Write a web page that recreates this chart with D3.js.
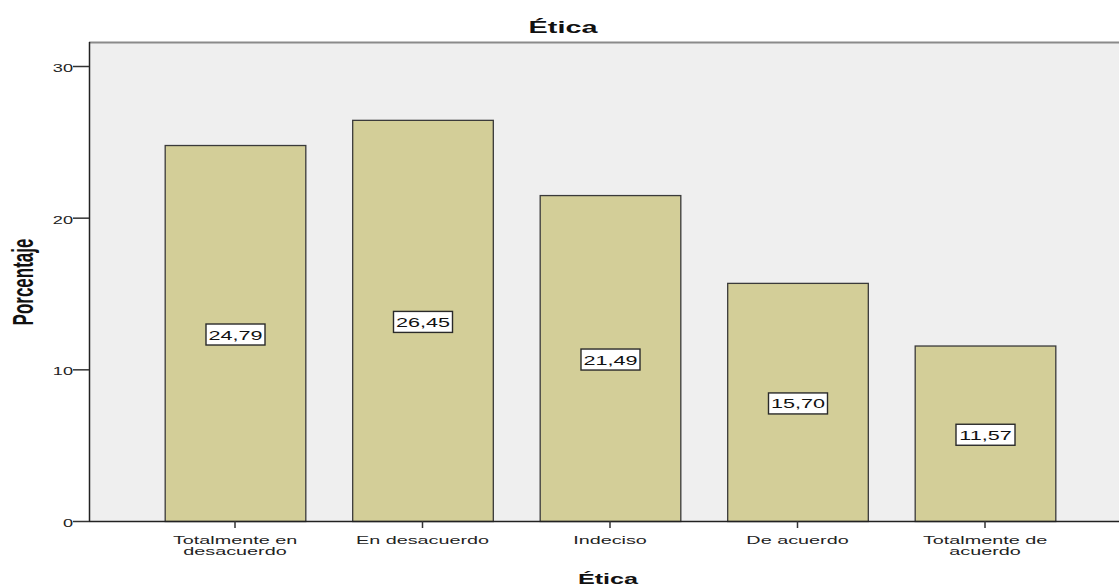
<!DOCTYPE html>
<html>
<head>
<meta charset="utf-8">
<script src="https://cdn.jsdelivr.net/npm/d3@7"></script>
<style>
  html, body { margin: 0; padding: 0; background: #fff; }
  svg { display: block; }
</style>
</head>
<body>
<svg id="chart" width="1119" height="588"></svg>
<script>
// Response categories and their percentages
const categories = ["Totalmente en\ndesacuerdo", "En desacuerdo", "Indeciso", "De acuerdo", "Totalmente de\nacuerdo"];
const percentages = [24.79, 26.45, 21.49, 15.70, 11.57];
const yTicks = [0, 10, 20, 30];
const chartTitle = "Ética";
const xTitle = "Ética";
const yTitle = "Porcentaje";

const svg = d3.select("#chart");
const plot = { left: 89, top: 42, right: 1125, bottom: 521 };

// text is drawn horizontally widened, as in the exported chart
const SX = 1.8;

const y = d3.scaleLinear().domain([0, 30]).range([521, 66]);
const x = d3.scaleBand().domain(categories).range([141.25, 1078.75]).paddingInner(0.25).paddingOuter(0.125);

const fontMain = "'Liberation Sans', Arial, sans-serif";

// plot background
svg.append("rect")
  .attr("x", plot.left).attr("y", plot.top)
  .attr("width", plot.right - plot.left).attr("height", plot.bottom - plot.top)
  .attr("fill", "#efefef");
// top frame line
svg.append("line")
  .attr("x1", plot.left).attr("x2", plot.right)
  .attr("y1", plot.top + 0.5).attr("y2", plot.top + 0.5)
  .attr("stroke", "#8a8a8a").attr("stroke-width", 2);

// bars
const bars = svg.append("g");
bars.selectAll("rect").data(percentages).join("rect")
  .attr("x", (d, i) => x(categories[i]) + 0.5)
  .attr("y", d => y(d) + 0.5)
  .attr("width", x.bandwidth())
  .attr("height", d => y(0) - y(d))
  .attr("fill", "#d3ce98")
  .attr("stroke", "#3a3a3a")
  .attr("stroke-width", 1.3);

// y axis
const yAxis = svg.append("g")
  .attr("transform", `translate(${plot.left},0)`)
  .call(d3.axisLeft(y).tickValues(yTicks).tickSize(16).tickFormat(d3.format("d")));
yAxis.select(".domain").attr("d", `M0.5,${plot.top}V${plot.bottom}`).attr("stroke", "#222").attr("stroke-width", 1.5);
yAxis.selectAll(".tick line").attr("x1", 0).attr("x2", -16).attr("stroke", "#333").attr("stroke-width", 1.5);
yAxis.selectAll(".tick text")
  .attr("x", null).attr("dy", "0.5em")
  .attr("transform", "translate(-16,0) scale(1.65,1)")
  .attr("text-anchor", "end")
  .attr("font-family", fontMain).attr("font-size", 11).attr("fill", "#222");

// x axis
const xAxis = svg.append("g")
  .attr("transform", `translate(0,${plot.bottom})`)
  .call(d3.axisBottom(x).tickSize(7).tickFormat(""));
xAxis.select(".domain").attr("d", `M${plot.left},0.5H${plot.right}`).attr("stroke", "#222").attr("stroke-width", 1.5);
xAxis.selectAll(".tick line").attr("stroke", "#333").attr("stroke-width", 1.5);
xAxis.selectAll(".tick").each(function(d) {
  const lines = d.split("\n");
  const t = d3.select(this).append("text")
    .attr("text-anchor", "middle")
    .attr("transform", `scale(${SX},1)`)
    .attr("font-family", fontMain).attr("font-size", 11).attr("fill", "#222");
  lines.forEach((ln, k) => {
    t.append("tspan").attr("x", 0).attr("y", 23 + k * 11).text(ln);
  });
});

// value labels in boxes at half height
const labels = svg.append("g");
percentages.forEach((v, i) => {
  const cx = x(categories[i]) + x.bandwidth() / 2 + 0.5;
  const cy = y(v / 2) + 2;
  const txt = d3.format(".2f")(v).replace(".", ",");
  const g = labels.append("g").attr("transform", `translate(${cx},${cy})`);
  g.append("rect")
    .attr("x", -29.5).attr("y", -11).attr("width", 59).attr("height", 21)
    .attr("fill", "#fff").attr("stroke", "#2a2a2a").attr("stroke-width", 1.4);
  g.append("text")
    .attr("text-anchor", "middle").attr("y", 4.5)
    .attr("transform", `scale(${SX},1)`)
    .attr("font-family", fontMain).attr("font-size", 12).attr("fill", "#111")
    .text(txt);
});

// titles
svg.append("text")
  .attr("transform", `translate(563,33) scale(${SX},1)`)
  .attr("text-anchor", "middle")
  .attr("font-family", fontMain).attr("font-size", 16).attr("font-weight", "bold").attr("fill", "#111")
  .text(chartTitle);
svg.append("text")
  .attr("transform", `translate(608,584) scale(${SX},1)`)
  .attr("text-anchor", "middle")
  .attr("font-family", fontMain).attr("font-size", 14).attr("font-weight", "bold").attr("fill", "#111")
  .text(xTitle);
svg.append("text")
  .attr("transform", "translate(33,282) rotate(-90) scale(1,1.7)")
  .attr("text-anchor", "middle")
  .attr("font-family", fontMain).attr("font-size", 17).attr("font-weight", "bold").attr("fill", "#111")
  .text(yTitle);
</script>
</body>
</html>
